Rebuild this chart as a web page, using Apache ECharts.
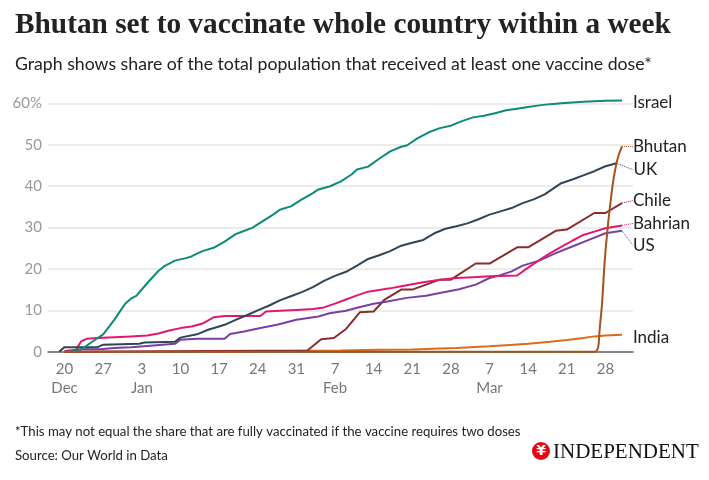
<!DOCTYPE html>
<html>
<head>
<meta charset="utf-8">
<script src="https://cdn.jsdelivr.net/npm/echarts@6/dist/echarts.min.js"></script>
<style>
html,body{margin:0;padding:0;background:#fff;}
#chart{width:709px;height:480px;}
</style>
</head>
<body>
<div id="chart"></div>
<script>
// Days counted from 20 Dec 2020; values = % of population with at least one dose
const xTickDays = [0, 7, 14, 21, 28, 35, 42, 49, 56, 63, 70, 77, 84, 91, 98];
const xTickLabels = ['20\nDec', '27', '3\nJan', '10', '17', '24', '31', '7\nFeb', '14', '21', '28', '7\nMar', '14', '21', '28'];
const yTicks = [0, 10, 20, 30, 40, 50, 60];

const israel = [[1,0],[3,0.5],[5,2.4],[7,4.2],[9,7.7],[11,11.6],[12,12.8],[13,13.5],[15,16.6],[17,19.5],[18,20.6],[20,22],[22,22.6],[23,23],[24,23.7],[25,24.3],[27,25.1],[29,26.6],[31,28.4],[32,28.9],[34,29.9],[36,31.6],[38,33.3],[39,34.3],[41,35.1],[43,36.8],[45,38.3],[46,39.2],[48,39.9],[50,41.1],[52,42.8],[53,44],[55,44.7],[57,46.6],[59,48.4],[61,49.5],[62,49.8],[64,51.6],[66,53],[68,54],[70,54.6],[72,55.7],[74,56.6],[76,57],[78,57.6],[80,58.3],[82,58.7],[84,59.1],[86,59.5],[88,59.8],[90,60],[92,60.2],[94,60.4],[96,60.5],[98,60.6],[101,60.7]];
const uk = [[-1,0],[0,1.1],[6,1.1],[7,1.7],[13.5,1.9],[14.5,2.2],[20,2.4],[21,3.4],[24,4.2],[26,5.3],[28,6.1],[29,6.5],[31,7.7],[33,8.8],[35,10],[37,11.1],[39,12.4],[41,13.4],[43,14.4],[45,15.6],[47,17.1],[49,18.3],[51,19.3],[53,20.8],[55,22.4],[57,23.3],[59,24.3],[61,25.6],[63,26.3],[65,27],[67,28.6],[69,29.7],[71,30.3],[73,31],[75,32],[77,33.1],[79,33.9],[81,34.7],[83,35.9],[85,36.8],[87,38],[89,39.8],[90,40.7],[92,41.6],[94,42.6],[96,43.6],[98,44.8],[100,45.5]];
const bahrain = [[0,0],[2,0.3],[3,2.5],[4,3.1],[6,3.3],[9,3.5],[12,3.7],[15,3.9],[17,4.4],[19,5.1],[21,5.7],[23,6.1],[25,6.8],[27,8.3],[29,8.6],[35.5,8.6],[36.5,9.7],[39,9.9],[42,10.1],[45,10.3],[47,10.7],[49,11.6],[51,12.6],[53,13.6],[55,14.5],[57,14.9],[59,15.3],[61,15.8],[63,16.3],[65,16.8],[68,17.4],[71,17.8],[74,18],[77,18.2],[82,18.4],[84,20.3],[86,22.1],[88,23.8],[90,25.3],[92,26.8],[94,28.2],[96,29],[98,29.8],[101,30.5]];
const us = [[0,0.2],[3,0.6],[6.5,0.6],[9,0.9],[12,1.1],[15,1.4],[20,1.9],[21,2.9],[24,3.1],[29,3.1],[30,4.3],[32.5,4.9],[35.5,5.7],[38.5,6.5],[42,7.7],[46,8.5],[48,9.3],[51,9.9],[53,10.6],[56,11.6],[58,12],[62,13],[65.5,13.5],[68,14.2],[71.5,15.1],[74.5,16.2],[77,17.8],[79,18.5],[81,19.4],[83,20.8],[86,22],[89,23.8],[92,25.4],[95,27],[98,28.6],[101,29.2]];
const chile = [[0,0],[44,0.3],[46.5,3],[48.8,3.3],[51,5.5],[53.5,9.5],[56,9.7],[58,12.6],[61,15],[63,15],[68,17.4],[70,17.4],[74.5,21.3],[77,21.3],[82,25.2],[84,25.2],[89,29.2],[91,29.5],[96,33.5],[98,33.5],[101,35.9]];
const india = [[27,0],[40,0.15],[50,0.3],[57,0.45],[63,0.55],[68,0.8],[71,0.9],[77,1.3],[80,1.55],[84,1.9],[88,2.4],[91,2.8],[94,3.3],[96,3.7],[98,3.9],[101,4.1]];
const bhutan = [[0,0],[96,0],[97,6],[98,24],[99,37],[100,45.5],[101,49.6]];

const FONT = 'Lato';
const chart = echarts.init(document.getElementById('chart'), null, {renderer: 'canvas'});

function makeSeries(name, data, color, dx, dy, leader, smooth) {
  const d = data.map(function (p, i) {
    if (i === data.length - 1) {
      return {value: p, label: {show: true}};
    }
    return p;
  });
  return {
    name: name,
    type: 'line',
    data: d,
    showSymbol: true,
    showAllSymbol: true,
    symbol: 'circle',
    symbolSize: 0,
    smooth: !!smooth,
    clip: false,
    lineStyle: {color: color, width: 2},
    itemStyle: {color: color},
    emphasis: {disabled: true},
    label: {
      show: false,
      position: 'right',
      distance: 11,
      formatter: name,
      color: '#222',
      opacity: 1,
      fontFamily: FONT,
      fontSize: 17
    },
    labelLayout: {dx: dx, dy: dy},
    labelLine: {
      show: leader,
      lineStyle: {color: color, width: 1, type: 'dotted'}
    }
  };
}

chart.setOption({
  backgroundColor: '#fff',
  animation: false,
  title: [
    {
      text: 'Bhutan set to vaccinate whole country within a week',
      left: 10, top: 6,
      textStyle: {fontFamily: 'Liberation Serif', fontWeight: 'bold', fontSize: 29.3, color: '#222'}
    },
    {
      text: 'Graph shows share of the total population that received at least one vaccine dose*',
      left: 10, top: 50,
      textStyle: {fontFamily: FONT, fontWeight: 'normal', fontSize: 17.7, color: '#222'}
    },
    {
      text: '*This may not equal the share that are fully vaccinated if the vaccine requires two doses',
      left: 10, top: 420,
      textStyle: {fontFamily: FONT, fontWeight: 'normal', fontSize: 13.2, color: '#222'}
    },
    {
      text: 'Source: Our World in Data',
      left: 10, top: 444,
      textStyle: {fontFamily: FONT, fontWeight: 'normal', fontSize: 13.2, color: '#222'}
    }
  ],
  grid: {left: 48, right: 76, top: 103.3, bottom: 128.3, containLabel: false},
  xAxis: {
    type: 'value',
    min: -3,
    max: 103,
    axisLine: {show: true, onZero: false, lineStyle: {color: '#666', width: 1.5}},
    axisTick: {show: false},
    splitLine: {show: false},
    axisLabel: {
      customValues: xTickDays,
      formatter: function (v) {
        const i = xTickDays.indexOf(Math.round(v));
        return i >= 0 ? xTickLabels[i] : '';
      },
      color: '#777',
      fontFamily: FONT,
      fontSize: 15,
      lineHeight: 19,
      margin: 8
    }
  },
  yAxis: {
    type: 'value',
    min: 0,
    max: 60,
    interval: 10,
    axisLine: {show: false},
    axisTick: {show: false},
    splitLine: {lineStyle: {color: '#e6e6e6', width: 1.5}},
    axisLabel: {
      formatter: function (v) { return v === 60 ? '60%' : String(v); },
      color: '#999',
      fontFamily: FONT,
      fontSize: 15,
      margin: 6
    }
  },
  series: [
    makeSeries('India', india, '#de6a1b', 0, 3, false),
    makeSeries('Chile', chile, '#8b2b2e', 0, -2.5, true),
    makeSeries('US', us, '#7a3fa3', 0, 14.5, true),
    makeSeries('Bahrian', bahrain, '#e3176e', 0, -2, true),
    makeSeries('UK', uk, '#2f4558', 6, 6.5, true),
    makeSeries('Israel', israel, '#0d8a78', 0, 2, false),
    makeSeries('Bhutan', bhutan, '#a3531f', 0, 0.5, true, true)
  ],
  graphic: [
    {type: 'circle', shape: {cx: 541, cy: 451, r: 9}, style: {fill: '#e30613'}},
    {type: 'text', x: 541, y: 451, style: {text: '¥', fill: '#fff', font: 'bold 14px "DejaVu Sans"', textAlign: 'center', textVerticalAlign: 'middle'}},
    {type: 'text', x: 553, y: 452, style: {text: 'INDEPENDENT', fill: '#111', font: '21px "Liberation Serif"', textAlign: 'left', textVerticalAlign: 'middle'}}
  ]
});
</script>
</body>
</html>
